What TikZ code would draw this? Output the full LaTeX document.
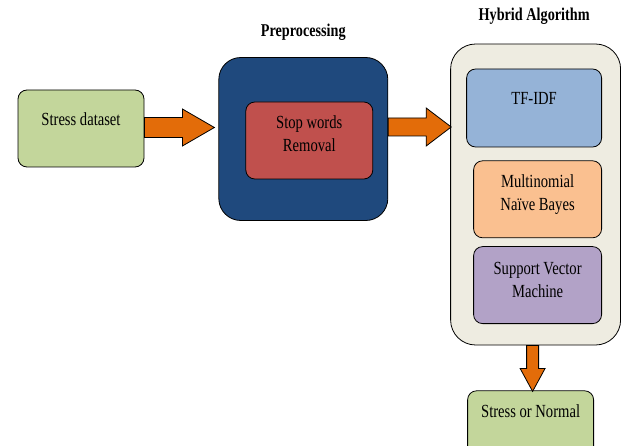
\documentclass[tikz,border=0pt]{standalone}
\usepackage{fontspec}
\setmainfont{Liberation Serif}[FakeStretch=0.79]
\usetikzlibrary{positioning,calc}

\definecolor{boxgreen}{HTML}{C3D69B}
\definecolor{boxnavy}{HTML}{1F497D}
\definecolor{boxred}{HTML}{C0504D}
\definecolor{boxbeige}{HTML}{EEECE1}
\definecolor{boxblue}{HTML}{95B3D7}
\definecolor{boxpeach}{HTML}{FAC090}
\definecolor{boxlilac}{HTML}{B2A2C7}
\definecolor{arroworange}{HTML}{E36C09}

\tikzset{
    box/.style      = {draw=black, line width=0.8pt, rounded corners=9pt, align=center,
                       inner xsep=0pt, inner ysep=0pt,
                       font=\fontsize{18.5}{22.5}\selectfont,
                       execute at begin node={\spaceskip=3.6pt\relax}},
    panel/.style    = {draw=black, line width=0.8pt, inner sep=0pt},
    title/.style    = {font=\fontsize{18}{21}\selectfont\bfseries, inner sep=0pt,
                       execute at begin node={\spaceskip=3.6pt\relax}},
    flow/.style     = {draw=black, line width=0.8pt, fill=arroworange, line join=miter}
}

% block arrow: start, tip, shaft half width, head half width, head length
\newcommand{\hflow}[5]{%
    \draw[flow] ($(#1)+(0,#3)$) -- ($(#2)+(-#5,#3)$) -- ($(#2)+(-#5,#4)$) -- (#2)
        -- ($(#2)+(-#5,-#4)$) -- ($(#2)+(-#5,-#3)$) -- ($(#1)+(0,-#3)$) -- cycle;}
\newcommand{\vflow}[5]{%
    \draw[flow] ($(#1)+(-#3,0)$) -- ($(#2)+(-#3,-#5)$) -- ($(#2)+(-#4,-#5)$) -- (#2)
        -- ($(#2)+(#4,-#5)$) -- ($(#2)+(#3,-#5)$) -- ($(#1)+(#3,0)$) -- cycle;}

\begin{document}
\begin{tikzpicture}[x=1pt, y=-1pt]
    \useasboundingbox (0,0) rectangle (621,446);

    \node [box, fill=boxgreen, text width=126pt, text height=36pt, text depth=41pt]
          (data) at (81,128.5) {Stress dataset};

    \node [panel, fill=boxnavy, rounded corners=22pt, minimum width=169pt, minimum height=163pt,
           right=74pt of data, yshift=-10.5pt] (pre) {};
    \node [box, fill=boxred, text width=127pt, text height=27pt, text depth=50pt,
           xshift=6pt, yshift=-1.5pt] (stop) at (pre.center) {Stop words\\Removal};

    \node [panel, fill=boxbeige, rounded corners=25pt, minimum width=170pt, minimum height=301pt,
           right=62pt of pre, yshift=-55.5pt] (hybrid) {};
    \node [box, fill=boxblue, text width=135pt, text height=36pt, text depth=42pt,
           below=25pt of hybrid.north, xshift=-1.5pt] (tfidf) {TF-IDF};
    \node [box, fill=boxpeach, text width=128pt, text height=27pt, text depth=50pt,
           below=13pt of tfidf, xshift=3.5pt] (mnb) {Multinomial\\Naïve Bayes};
    \node [box, fill=boxlilac, text width=128pt, text height=28pt, text depth=49pt,
           below=8pt of mnb] (svm) {Support Vector\\Machine};

    \node [box, fill=boxgreen, text width=126pt, text height=27pt, text depth=50pt,
           below=45pt of hybrid, xshift=-5pt] (result) {Stress or Normal};

    \node [title, above=21pt of pre.north, anchor=base] (pretitle) {Preprocessing};
    \node [title, above=23pt of hybrid.north, anchor=base, xshift=-1.5pt] (hybtitle) {Hybrid Algorithm};

    % arrows between the stages
    \coordinate (a1s) at ($(data.east)+(0,-1)$);
    \coordinate (a1e) at ($(a1s -| pre.west)+(-4,0)$);
    \hflow{a1s}{a1e}{10}{18.5}{32}

    \coordinate (a2s) at ($(pre.east)+(0,-12)$);
    \coordinate (a2e) at ($(a2s -| hybrid.west)+(1,0)$);
    \hflow{a2s}{a2e}{9}{19}{25}

    \coordinate (a3s) at ($(hybrid.south)+(-3,0)$);
    \coordinate (a3e) at ($(a3s |- result.north)+(0,1)$);
    \vflow{a3s}{a3e}{6}{12.5}{23}
\end{tikzpicture}
\end{document}
